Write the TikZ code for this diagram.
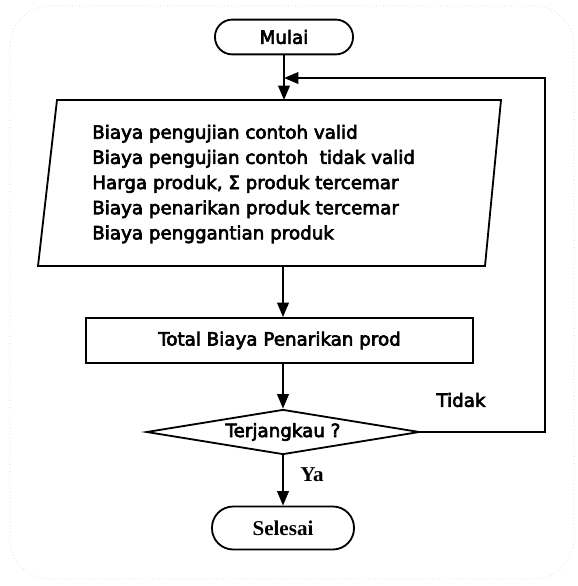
\documentclass[tikz,border=0pt]{standalone}
\usepackage{fontspec}
\setmainfont[FakeBold=3.5]{DejaVu Sans}
\newfontfamily\serifya{Liberation Serif}
\usetikzlibrary{shapes.geometric, arrows.meta, positioning}
\tikzset{
  term/.style={rectangle, draw=black, line width=1.3pt, rounded corners=4.3mm,
    minimum width=3.45cm, minimum height=0.87cm, inner sep=0pt},
  datain/.style={draw=black, line width=1.3pt, line join=miter},
  procbox/.style={rectangle, draw=black, line width=1.3pt,
    minimum width=9.675cm, minimum height=1.125cm, inner sep=0pt},
  decide/.style={diamond, aspect=6, draw=black, line width=1.3pt,
    minimum width=6.825cm, minimum height=1.125cm, inner sep=0pt},
  arrow/.style={-{Triangle[length=3.6mm, width=2.9mm]}, line width=1.3pt},
  txt/.style={font=\fontsize{13pt}{17.9pt}\selectfont}
}
\begin{document}
\begin{tikzpicture}[x=0.025cm, y=-0.025cm]
    \useasboundingbox (0,0) rectangle (578,586);
    % Frame
    \draw[gray!45, dotted, rounded corners=10mm] (10,6) rectangle (574,579);
    % Nodes
    \node[term, txt] (start) at (284,37) {Mulai};
    \coordinate (inTL) at (57,100);
    \coordinate (inTR) at (501,100);
    \coordinate (inBR) at (485,266);
    \coordinate (inBL) at (38,266);
    \draw[datain] (inTL) -- (inTR) -- (inBR) -- (inBL) -- cycle;
    \node[txt, anchor=west, align=left, inner sep=0pt] (inputtxt) at (92,184)
      {Biaya pengujian contoh valid\\
       Biaya pengujian contoh\ \ tidak valid\\
       Harga produk, Σ produk tercemar\\
       Biaya penarikan produk tercemar\\
       Biaya penggantian produk};
    \node[procbox, txt] (proc) at (279.5,340.5) {Total Biaya Penarikan prod};
    \node[decide, txt] (dec) at (283,432) {Terjangkau ?};
    \node[term, minimum width=3.55cm, minimum height=1.075cm, rounded corners=5.3mm,
      font=\serifya\bfseries\fontsize{15pt}{18pt}\selectfont] (stop) at (283,528) {Selesai};
    % Labels
    \node[txt] (tidak) at (461,400) {Tidak};
    \node[font=\serifya\bfseries\fontsize{15pt}{18pt}\selectfont] (ya) at (312,475) {Ya};
    % Arrows
    \coordinate (turn) at (545,78);
    \draw[arrow] (start) -- (start |- inTL);
    \draw[arrow] (inBL -| dec) -- (proc.north -| dec);
    \draw[arrow] (proc.south -| dec) -- (dec.north);
    \draw[arrow] (dec.south) -- (stop.north);
    \draw[arrow] (dec.east) -| (turn) -- (turn -| start);
\end{tikzpicture}
\end{document}
